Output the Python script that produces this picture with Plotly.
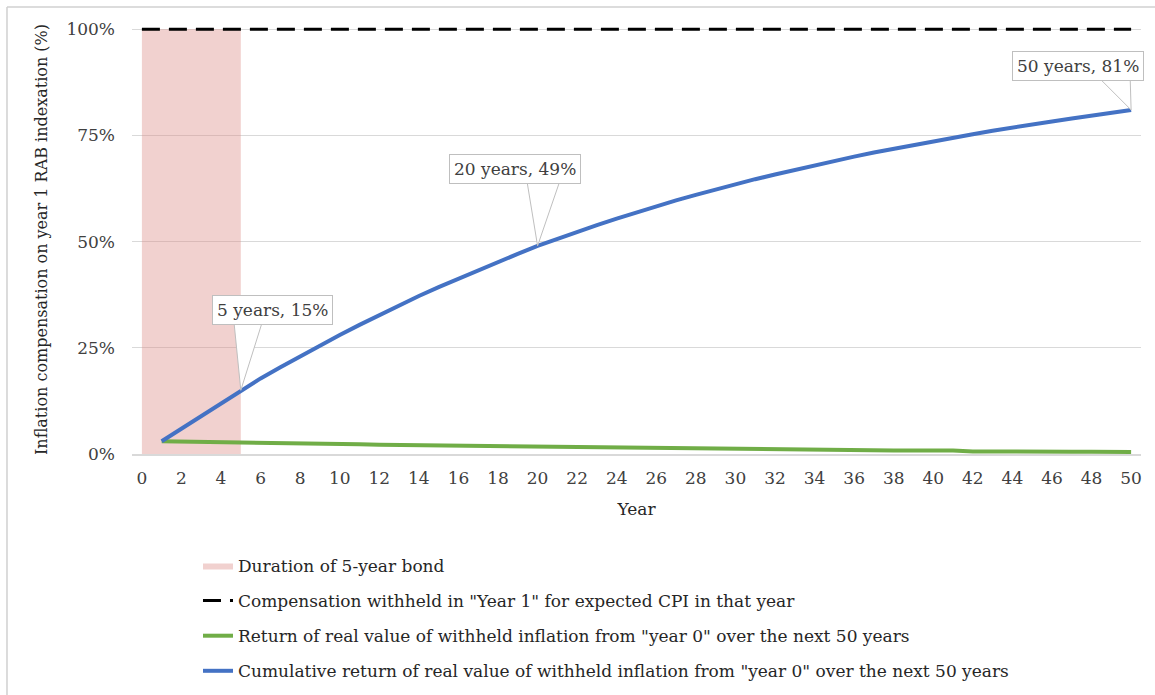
import plotly.graph_objects as go

# ---------------- data ----------------
years = list(range(1, 51))
cumulative = [3.0, 6.0, 9.0, 12.0, 15.0, 17.8, 20.4, 23.0, 25.5, 28.0,
              30.4, 32.7, 35.0, 37.2, 39.3, 41.3, 43.3, 45.2, 47.1, 49.0,
              50.7, 52.3, 53.9, 55.4, 56.9, 58.3, 59.7, 61.0, 62.3, 63.5,
              64.7, 65.8, 66.9, 68.0, 69.0, 70.0, 71.0, 71.9, 72.8, 73.7,
              74.5, 75.3, 76.1, 76.9, 77.6, 78.3, 79.0, 79.7, 80.4, 81.0]
annual = [3.0, 2.95, 2.9, 2.85, 2.8, 2.6, 2.55, 2.5, 2.4, 2.35,
          2.3, 2.15, 2.1, 2.05, 1.95, 1.9, 1.9, 1.85, 1.75, 1.65,
          1.6, 1.55, 1.45, 1.35, 1.35, 1.35, 1.3, 1.15, 1.1, 1.1,
          1.1, 1.1, 1.05, 0.9, 0.85, 0.85, 0.85, 0.85, 0.85, 0.85,
          0.8, 0.6, 0.55, 0.55, 0.55, 0.55, 0.55, 0.55, 0.5, 0.5]
withheld_years = [0, 50]
withheld_level = [100, 100]
bond_years = [0, 5]
bond_level = [0, 100]
x_ticks = list(range(0, 51, 2))
y_ticks = [0, 25, 50, 75, 100]
y_tick_labels = ["0%", "25%", "50%", "75%", "100%"]
callout_years = [5, 20, 50]
callout_text = ["5 years, 15%", "20 years, 49%", "50 years, 81%"]

names = [
    "Duration of 5-year bond",
    "Compensation withheld in \"Year 1\" for expected CPI in that year",
    "Return of real value of withheld inflation from \"year 0\" over the next 50 years",
    "Cumulative return of real value of withheld inflation from \"year 0\" over the next 50 years",
]

# ---------------- style ----------------
FONT = "DejaVu Serif"
FS = 17
TXT = "#404040"
GRID = "#d9d9d9"

fig = go.Figure()

fig.add_trace(go.Scatter(
    x=[bond_years[0], bond_years[1], bond_years[1], bond_years[0], bond_years[0]],
    y=[bond_level[0], bond_level[0], bond_level[1], bond_level[1], bond_level[0]],
    mode="lines", fill="toself", fillcolor="rgba(220,140,135,0.4)",
    line=dict(width=0), name=names[0], legendgroup="a", hoverinfo="skip"))

fig.add_trace(go.Scatter(
    x=withheld_years, y=withheld_level, mode="lines",
    line=dict(color="#000000", width=3, dash="18px,9px"),
    name=names[1], legendgroup="b"))

fig.add_trace(go.Scatter(
    x=years, y=annual, mode="lines",
    line=dict(color="#70ad47", width=4),
    name=names[2], legendgroup="c"))

fig.add_trace(go.Scatter(
    x=years, y=cumulative, mode="lines",
    line=dict(color="#4472c4", width=4),
    name=names[3], legendgroup="d"))

# callouts
box_offsets = [(31.5, 80), (-22.6, 77), (-53, 44)]
wedges = ["M0,0 L-7,70 L22,70 Z", "M0,0 L-11,67 L23,67 Z", "M0,0 L-34,34 L-1,34 Z"]
for yr, txt, (dx, dy), wp in zip(callout_years, callout_text, box_offsets, wedges):
    val = cumulative[years.index(yr)]
    fig.add_shape(type="path", xref="x", yref="y", xsizemode="pixel", ysizemode="pixel",
                  xanchor=yr, yanchor=val, path=wp, fillcolor="white",
                  line=dict(color="#bfbfbf", width=1), layer="above")
    fig.add_annotation(x=yr, y=val, xref="x", yref="y", text=txt, showarrow=False,
                       xshift=dx, yshift=dy, xanchor="center", yanchor="middle",
                       bgcolor="white", bordercolor="#bfbfbf", borderwidth=1, borderpad=4,
                       font=dict(family=FONT, size=FS, color=TXT))

# outer frame (left and top light border)
fig.add_shape(type="line", xref="paper", yref="paper", x0=-0.1239, x1=-0.1239, y0=1.042, y1=-0.57,
              line=dict(color="#d0d0d0", width=1.5))
fig.add_shape(type="line", xref="paper", yref="paper", x0=-0.1239, x1=1.02, y0=1.042, y1=1.042,
              line=dict(color="#d0d0d0", width=1.5))

fig.update_layout(
    width=1155, height=695,
    margin=dict(l=132, r=14, t=25, b=241, autoexpand=False),
    paper_bgcolor="white", plot_bgcolor="white",
    font=dict(family=FONT, size=FS, color=TXT),
    showlegend=True,
    legend=dict(x=0.0654, y=-0.219, xanchor="left", yanchor="top",
                traceorder="grouped", tracegroupgap=10,
                font=dict(family=FONT, size=FS, color="#262626"),
                bgcolor="rgba(0,0,0,0)"),
    xaxis=dict(range=[-0.5, 50.5], tickmode="array", tickvals=x_ticks,
               ticktext=[str(t) for t in x_ticks], showgrid=False, zeroline=False,
               showline=True, linecolor=GRID, linewidth=1.5, ticks="",
               ticklabelstandoff=8, automargin=False,
               title=dict(text="Year", standoff=16, font=dict(family=FONT, size=FS, color="#262626"))),
    yaxis=dict(range=[0, 101], tickmode="array", tickvals=y_ticks, ticktext=y_tick_labels,
               showgrid=True, gridcolor=GRID, gridwidth=1, zeroline=False, ticks="",
               ticklabelstandoff=16, automargin=False,
               title=dict(text="Inflation compensation on year 1 RAB indexation (%)", standoff=14,
                          font=dict(family=FONT, size=16, color="#262626"))),
)

fig.write_html("out.html")
